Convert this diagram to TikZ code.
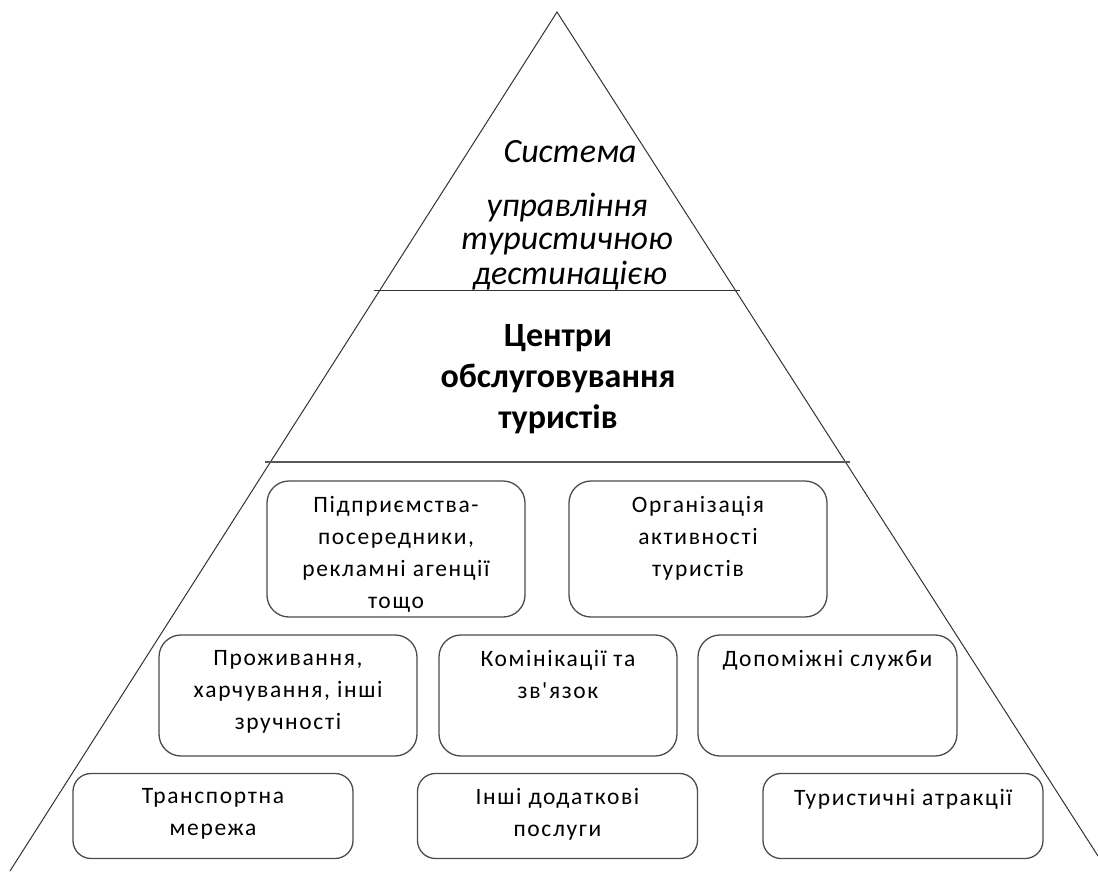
\documentclass[tikz,border=0pt]{standalone}
\usepackage{fontspec}
\setmainfont{Carlito}
\newfontfamily\boxfont[LetterSpace=7]{Carlito}
\begin{document}
\begin{tikzpicture}[x=1pt,y=-1pt,
  edge/.style={draw=black!80, line width=1pt},
  pbox/.style={draw=black!70, line width=1.3pt, rounded corners=22pt, inner sep=0pt},
  btext/.style={anchor=north, inner sep=0pt, align=center, font=\boxfont\fontsize{23.5}{32}\selectfont},
  toptext/.style={inner sep=0pt, align=center, font=\itshape\fontsize{34}{34}\selectfont},
  midtext/.style={inner sep=0pt, align=center, font=\bfseries\fontsize{34}{41}\selectfont}
]
\useasboundingbox (0,0) rectangle (1098,871);
% pyramid
\coordinate (apex) at (557,12);
\coordinate (bl) at (10,871);
\coordinate (br) at (1098,856);
\coordinate (l1a) at (374,290);
\coordinate (l1b) at (740,290);
\coordinate (l2a) at (265,462);
\coordinate (l2b) at (850,462);
\draw[edge] (bl) -- (apex) -- (br);
\draw[edge] (l1a) -- (l1b);
\draw[edge, draw=black!65, line width=1.8pt] (l2a) -- (l2b);
% top texts
\node[toptext] (t1) at (570,152) {Система};
\node[toptext] (t2) at (567,208) {управління};
\node[toptext] (t3) at (567,244) {туристичною};
\node[toptext] (t4) at (570,276) {дестинацією};
\node[midtext] (m) at (558,379) {Центри\\обслуговування\\туристів};
% boxes
\node[pbox, minimum width=258pt, minimum height=136pt] (A) at (396,549) {};
\node[pbox, minimum width=258pt, minimum height=136pt] (B) at (698,549) {};
\node[pbox, minimum width=258pt, minimum height=121pt] (C) at (288,695.5) {};
\node[pbox, minimum width=238pt, minimum height=121pt] (D) at (558,695.5) {};
\node[pbox, minimum width=259pt, minimum height=121pt] (E) at (827.5,695.5) {};
\node[pbox, rounded corners=18pt, minimum width=280pt, minimum height=85pt] (F) at (213,816) {};
\node[pbox, rounded corners=18pt, minimum width=280pt, minimum height=85pt] (G) at (557.5,816) {};
\node[pbox, rounded corners=18pt, minimum width=280pt, minimum height=85pt] (H) at (903,816) {};
% box texts
\node[btext] (At) at ([yshift=-16pt]A.north) {Підприємства-\\посередники,\\рекламні агенції\\тощо};
\node[btext] (Bt) at ([yshift=-16pt]B.north) {Організація\\активності\\туристів};
\node[btext] (Ct) at ([yshift=-16pt]C.north) {Проживання,\\харчування, інші\\зручності};
\node[btext] (Dt) at ([yshift=-16pt]D.north) {Комінікації та\\зв'язок};
\node[btext] (Et) at ([yshift=-16pt]E.north) {Допоміжні служби};
\node[btext] (Ft) at ([yshift=-15pt]F.north) {Транспортна\\мережа};
\node[btext] (Gt) at ([yshift=-15pt]G.north) {Інші додаткові\\послуги};
\node[btext] (Ht) at ([yshift=-16pt]H.north) {Туристичні атракції};
\end{tikzpicture}
\end{document}
